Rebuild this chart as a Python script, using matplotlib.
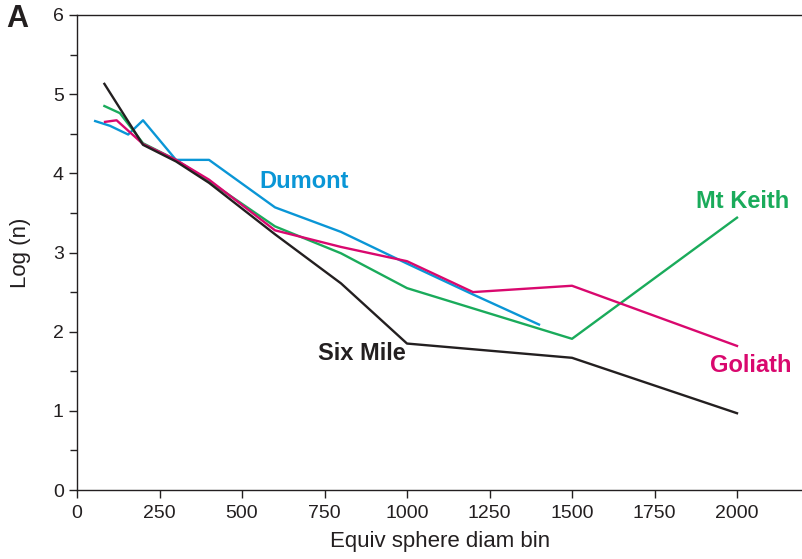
import numpy as np
import matplotlib
matplotlib.use('Agg')
import matplotlib.pyplot as plt
import matplotlib.ticker as ticker

plt.rcParams['font.family'] = ['Liberation Sans', 'DejaVu Sans']

# data
dumont_x = [55, 100, 155, 200, 300, 400, 600, 800, 1000, 1200, 1400]
dumont_y = [4.66, 4.60, 4.49, 4.67, 4.17, 4.17, 3.57, 3.26, 2.86, 2.47, 2.09]

goliath_x = [85, 120, 200, 300, 400, 600, 800, 1000, 1200, 1500, 2000]
goliath_y = [4.65, 4.67, 4.37, 4.17, 3.92, 3.28, 3.07, 2.89, 2.50, 2.58, 1.82]

mtkeith_x = [83, 130, 200, 300, 400, 600, 800, 1000, 1500, 2000]
mtkeith_y = [4.85, 4.76, 4.38, 4.17, 3.90, 3.33, 2.99, 2.55, 1.91, 3.44]

sixmile_x = [83, 200, 300, 400, 600, 800, 1000, 1500, 2000]
sixmile_y = [5.13, 4.36, 4.15, 3.88, 3.23, 2.61, 1.85, 1.67, 0.97]

c_blue = '#0a96d6'
c_green = '#1aab5b'
c_pink = '#d9086e'
c_black = '#231f20'

fig = plt.figure(figsize=(8.03, 5.59), dpi=100)
ax = fig.add_axes([0.0959, 0.1234, 0.9041, 0.8498])

lw = 1.7
ax.plot(dumont_x, dumont_y, color=c_blue, lw=lw)
ax.plot(mtkeith_x, mtkeith_y, color=c_green, lw=lw)
ax.plot(goliath_x, goliath_y, color=c_pink, lw=lw)
ax.plot(sixmile_x, sixmile_y, color=c_black, lw=lw)

lab_font = dict(fontsize=17, fontweight='bold')
ax.text(554, 3.90, 'Dumont', color=c_blue, ha='left', va='center', **lab_font)
ax.text(2157, 3.65, 'Mt Keith', color=c_green, ha='right', va='center', **lab_font)
ax.text(2166, 1.57, 'Goliath', color=c_pink, ha='right', va='center', **lab_font)
ax.text(729, 1.72, 'Six Mile', color=c_black, ha='left', va='center', **lab_font)

ax.set_xlim(0, 2200)
ax.set_ylim(0, 6)
ax.set_xticks(np.arange(0, 2001, 250))
ax.set_yticks(np.arange(0, 7, 1))
ax.yaxis.set_minor_locator(ticker.MultipleLocator(0.5))
ax.tick_params(axis='both', which='major', direction='out', length=6, width=1,
               labelsize=14, color='#231f20', labelcolor='#231f20')
ax.tick_params(axis='x', which='major', pad=5)
ax.tick_params(axis='y', which='minor', direction='out', length=5, width=1, color='#231f20')
ax.spines['right'].set_visible(False)
for s in ['left', 'bottom', 'top']:
    ax.spines[s].set_linewidth(1)
    ax.spines[s].set_color('#231f20')

ax.set_xlabel('Equiv sphere diam bin', fontsize=16, color='#231f20', labelpad=6)
ax.set_ylabel('Log (n)', fontsize=16, color='#231f20', labelpad=16)

fig.text(0.008, 0.966, 'A', fontsize=22, fontweight='bold', ha='left', va='center',
         color='#231f20')

plt.savefig('out.png', dpi=100)
